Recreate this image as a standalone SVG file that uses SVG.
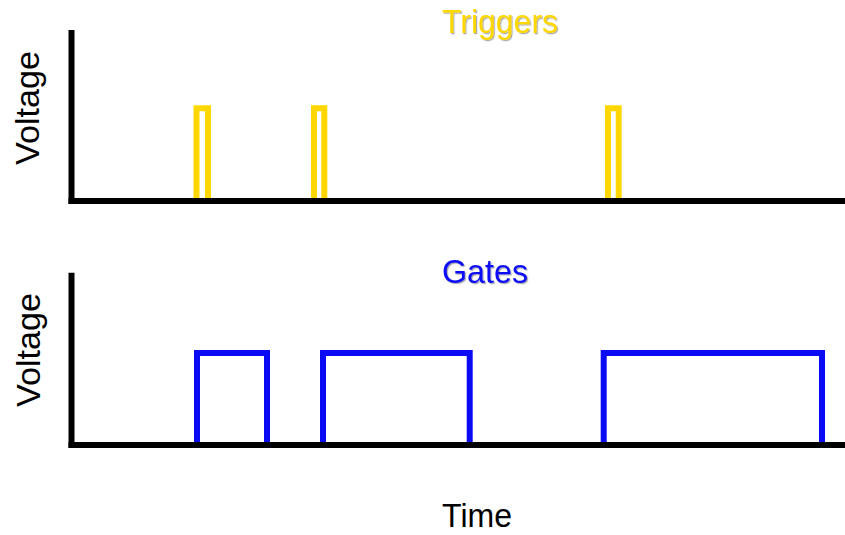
<svg xmlns="http://www.w3.org/2000/svg" width="845" height="535" viewBox="0 0 845 535">
<style>
.axis{fill:none;stroke:#000;stroke-width:6;stroke-linecap:butt}
.trig{fill:none;stroke:#FFD700;stroke-width:6;stroke-linejoin:miter}
.gate{fill:none;stroke:#0A0AF5;stroke-width:6;stroke-linejoin:miter}
.lbl{font-family:"Liberation Sans",Arial,sans-serif;font-size:33px}
</style>
<defs>
<filter id="shadow" x="-10%" y="-20%" width="130%" height="150%">
<feDropShadow dx="1.2" dy="1.2" stdDeviation="0.6" flood-color="#000" flood-opacity="0.35"/>
</filter>
</defs>
<rect width="845" height="535" fill="#fff"/>
<g id="triggers-chart">
<g id="triggers-axes">
<path class="axis" d="M71.5,30 V204"/>
<path class="axis" d="M68.5,201 H845"/>
</g>
<g id="voltage-top"><text class="lbl" transform="translate(39,165) rotate(-90)" textLength="114" lengthAdjust="spacingAndGlyphs" fill="#000">Voltage</text></g>
<g id="triggers-title"><text class="lbl" x="442" y="33" textLength="116" lengthAdjust="spacingAndGlyphs" fill="#FFD700" filter="url(#shadow)">Triggers</text></g>
<g id="triggers-signal">
<path class="trig" d="M196.5,198 V108.3 H208 V198"/>
<path class="trig" d="M314,198 V108.3 H324.3 V198"/>
<path class="trig" d="M608,198 V108.3 H618.7 V198"/>
</g>
</g>
<g id="gates-chart">
<g id="gates-axes">
<path class="axis" d="M71.5,272.7 V448"/>
<path class="axis" d="M68.5,445 H845"/>
</g>
<g id="voltage-bottom"><text class="lbl" transform="translate(40,407) rotate(-90)" textLength="114" lengthAdjust="spacingAndGlyphs" fill="#000">Voltage</text></g>
<g id="gates-title"><text class="lbl" x="442" y="283.3" textLength="86" lengthAdjust="spacingAndGlyphs" fill="#0A0AF5" filter="url(#shadow)">Gates</text></g>
<g id="gates-signal">
<path class="gate" d="M197,442 V353 H267 V442"/>
<path class="gate" d="M323,442 V353 H469.7 V442"/>
<path class="gate" d="M603.7,442 V353 H822 V442"/>
</g>
</g>
<g id="time-label"><text class="lbl" x="442" y="527" textLength="70" lengthAdjust="spacingAndGlyphs" fill="#000">Time</text></g>
</svg>
